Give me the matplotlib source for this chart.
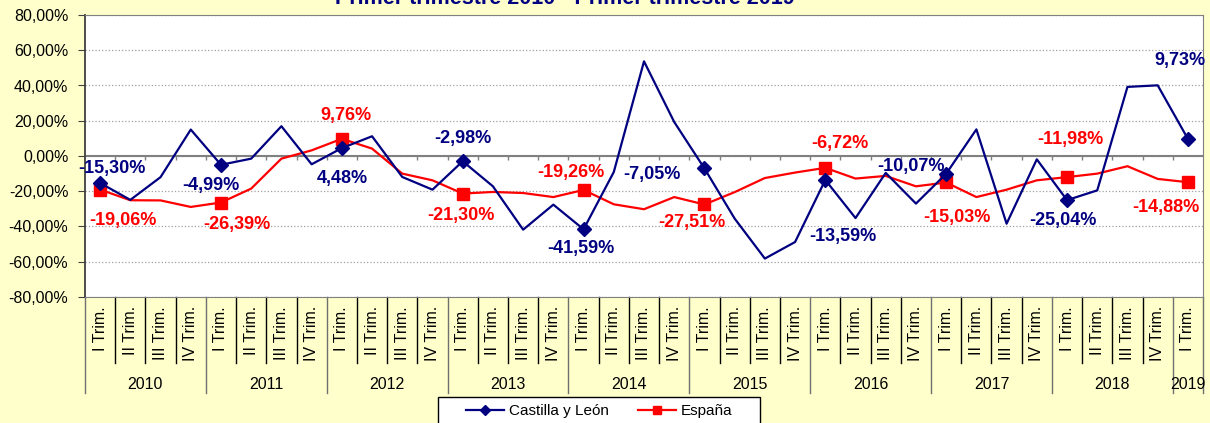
import matplotlib.pyplot as plt
import matplotlib.transforms as mtransforms
from matplotlib.lines import Line2D
from matplotlib.patches import Rectangle
from matplotlib.ticker import FuncFormatter

plt.rcParams['font.family'] = ['Liberation Sans', 'DejaVu Sans']

title = "Primer trimestre 2010 - Primer trimestre 2019"
years = ['2010', '2011', '2012', '2013', '2014', '2015', '2016', '2017', '2018', '2019']
quarters = ['I Trim.', 'II Trim.', 'III Trim.', 'IV Trim.'] * 9 + ['I Trim.']

# variacion interanual (%)
cyl = [-15.30, -24.9, -12.0, 15.0, -4.99, -1.5, 16.9, -4.7, 4.48, 11.2,
       -11.9, -19.1, -2.98, -17.2, -41.8, -27.6, -41.59, -9.1, 53.7, 19.3,
       -7.05, -35.5, -58.2, -48.8, -13.59, -35.2, -9.6, -27.0, -10.07, 15.1,
       -38.4, -1.9, -25.04, -19.5, 39.2, 40.1, 9.73]
esp = [-19.06, -25.1, -25.2, -28.9, -26.39, -18.5, -1.5, 3.2, 9.76, 4.2,
       -10.0, -13.8, -21.30, -20.4, -21.0, -23.3, -19.26, -27.4, -30.2, -23.3,
       -27.51, -20.5, -12.5, -9.4, -6.72, -12.8, -11.3, -17.2, -15.03, -23.3,
       -19.1, -13.8, -11.98, -10.0, -5.8, -13.0, -14.88]

# label offsets (pixels) for the "I Trim." points
cyl_off = [(12, 14), (-10, -21), (0, -30), (0, 23), (-3, -19),
           (-52, -6), (18, -57), (-35, 7), (-4, -20), (-8, 78)]
esp_off = [(23, -31), (16, -22), (4, 23), (-2, -22), (-13, 17),
           (-13, -18), (15, 24), (11, -35), (3, 38), (-22, -25)]

W, H = 1210, 423
fig = plt.figure(figsize=(W / 100, H / 100), dpi=100, facecolor='#FFFFCC')
ax = fig.add_axes([85 / W, 1 - 297 / H, 1118 / W, 282 / H])
ax.set_facecolor('white')

x = list(range(len(cyl)))
ax.plot(x, cyl, color='#000080', lw=1.6, marker='D', ms=7.5, markevery=4, zorder=4)
ax.plot(x, esp, color='#FF0000', lw=1.6, marker='s', ms=8, markevery=4, zorder=3)

def pct(v):
    return f"{v:.2f}".replace('.', ',') + '%'

for k, i in enumerate(range(0, len(cyl), 4)):
    ax.annotate(pct(cyl[i]), (i, cyl[i]), xytext=cyl_off[k], textcoords='offset pixels',
                ha='center', va='center', fontsize=13, fontweight='bold', color='#000080', zorder=6)
    ax.annotate(pct(esp[i]), (i, esp[i]), xytext=esp_off[k], textcoords='offset pixels',
                ha='center', va='center', fontsize=13, fontweight='bold', color='#FF0000', zorder=6)

ax.set_xlim(-0.5, len(cyl) - 0.5)
ax.set_ylim(-80, 80)
ax.set_yticks(range(-80, 81, 20))
ax.yaxis.set_major_formatter(FuncFormatter(lambda v, p: pct(v)))
ax.tick_params(axis='y', labelsize=11.5, length=5, pad=7, color='#404040')
ax.set_xticks([])
ax.grid(axis='y', linestyle=':', color='#A0A0A0', lw=0.9)
ax.axhline(0, color='#808080', lw=1.5, zorder=2)
ax.vlines([k - 0.5 for k in range(1, len(cyl))], -2.4, 0, color='#808080', lw=1, zorder=2)
for s in ['top', 'right', 'bottom']:
    ax.spines[s].set_color('#808080')
ax.spines['left'].set_color('#404040')
ax.spines['left'].set_linewidth(1.3)

# category axis: quarters and years
tr = mtransforms.blended_transform_factory(ax.transData, fig.transFigure)
for k in range(len(cyl) + 1):
    long = (k % 4 == 0) or k == len(cyl)
    y_end = 392.7 if long else 363
    col = '#707070' if long else 'black'
    ax.plot([k - 0.5, k - 0.5], [1 - 297 / H, 1 - y_end / H], transform=tr,
            color=col, lw=1, clip_on=False)
for i, q in enumerate(quarters):
    ax.text(i, 1 - 306 / H, q, transform=tr, rotation=90, ha='center', va='top', fontsize=11.5)
for j, yr in enumerate(years):
    xc = 4 * j + 1.5 if j < 9 else 36
    ax.text(xc, 1 - 384 / H, yr, transform=tr, ha='center', va='center', fontsize=11.5)

fig.text(565 / W, 1 - 4 / H, title, ha='center', va='baseline', fontsize=15.5,
         fontweight='bold', color='#000080')

# legend
fig.patches.append(Rectangle((438 / W, -0.05), 322 / W, 1 - 397 / H + 0.05,
                             transform=fig.transFigure, facecolor='white',
                             edgecolor='black', lw=1, zorder=1))
handles = [Line2D([], [], color='#000080', lw=1.6, marker='D', ms=5),
           Line2D([], [], color='#FF0000', lw=1.6, marker='s', ms=6)]
fig.legend(handles, ['Castilla y León', 'España'], loc='center',
           bbox_to_anchor=(599 / W, 1 - 411 / H), ncol=2, frameon=False,
           fontsize=11, handlelength=2.5, handletextpad=0.3, columnspacing=1.9,
           borderpad=0, borderaxespad=0)

fig.savefig('out.png', dpi=100, facecolor=fig.get_facecolor())
